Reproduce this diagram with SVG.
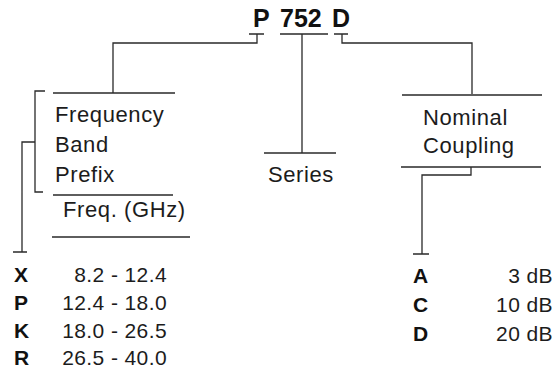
<svg xmlns="http://www.w3.org/2000/svg" width="558" height="376" viewBox="0 0 558 376">
<style>
.ln{fill:none;stroke:#2a2a2a;stroke-width:1.3}
.t{font-family:"Liberation Sans",Arial,sans-serif;font-size:22px;letter-spacing:0.6px;fill:#1c1c1c}
.v{font-family:"Liberation Sans",Arial,sans-serif;font-size:21px;letter-spacing:0.4px;fill:#1c1c1c}
.b{font-family:"Liberation Sans",Arial,sans-serif;font-size:21px;font-weight:bold;fill:#111}
.h{font-family:"Liberation Sans",Arial,sans-serif;font-size:25px;font-weight:bold;fill:#111}
</style>
<rect width="558" height="376" fill="#fff"/>
<g id="title">
<text class="h" y="27"><tspan x="253">P</tspan><tspan x="280">752</tspan><tspan x="332">D</tspan></text>
</g>
<g id="connectors">
<path class="ln" d="M249,34 H264 M257,34 V43 H113 V93"/>
<path class="ln" d="M280,34 H328 M302,34 V153"/>
<path class="ln" d="M334,34 H348 M342,34 V43 H472 V94"/>
<path class="ln" d="M45,91 H35 V192 H43 M35,142 H22 V252 M13,252 H27"/>
<path class="ln" d="M471,167 V175 H422 V254 M413,254 H429"/>
</g>
<g id="frequency">
<path class="ln" d="M53,93 H175 M53,195 H173 M52,237 H190"/>
<text class="t" x="55" y="122">Frequency</text>
<text class="t" x="55" y="152">Band</text>
<text class="t" x="55" y="182">Prefix</text>
<text class="t" x="63" y="217">Freq. (GHz)</text>
</g>
<g id="series">
<path class="ln" d="M264,153 H336"/>
<text class="t" x="268" y="182">Series</text>
</g>
<g id="coupling">
<path class="ln" d="M402,95 H542 M401,167 H541"/>
<text class="t" x="423" y="125">Nominal</text>
<text class="t" x="423" y="153">Coupling</text>
</g>
<g id="band-table">
<text class="b" x="14" y="282">X</text>
<text class="b" x="14" y="310">P</text>
<text class="b" x="14" y="338">K</text>
<text class="b" x="14" y="365">R</text>
<text class="v" x="167" y="282" text-anchor="end">8.2 - 12.4</text>
<text class="v" x="167" y="310" text-anchor="end">12.4 - 18.0</text>
<text class="v" x="167" y="338" text-anchor="end">18.0 - 26.5</text>
<text class="v" x="167" y="365" text-anchor="end">26.5 - 40.0</text>
</g>
<g id="coupling-table">
<text class="b" x="413" y="283">A</text>
<text class="b" x="413" y="312">C</text>
<text class="b" x="413" y="341">D</text>
<text class="v" x="553" y="283" text-anchor="end">3 dB</text>
<text class="v" x="553" y="312" text-anchor="end">10 dB</text>
<text class="v" x="553" y="341" text-anchor="end">20 dB</text>
</g>
</svg>
